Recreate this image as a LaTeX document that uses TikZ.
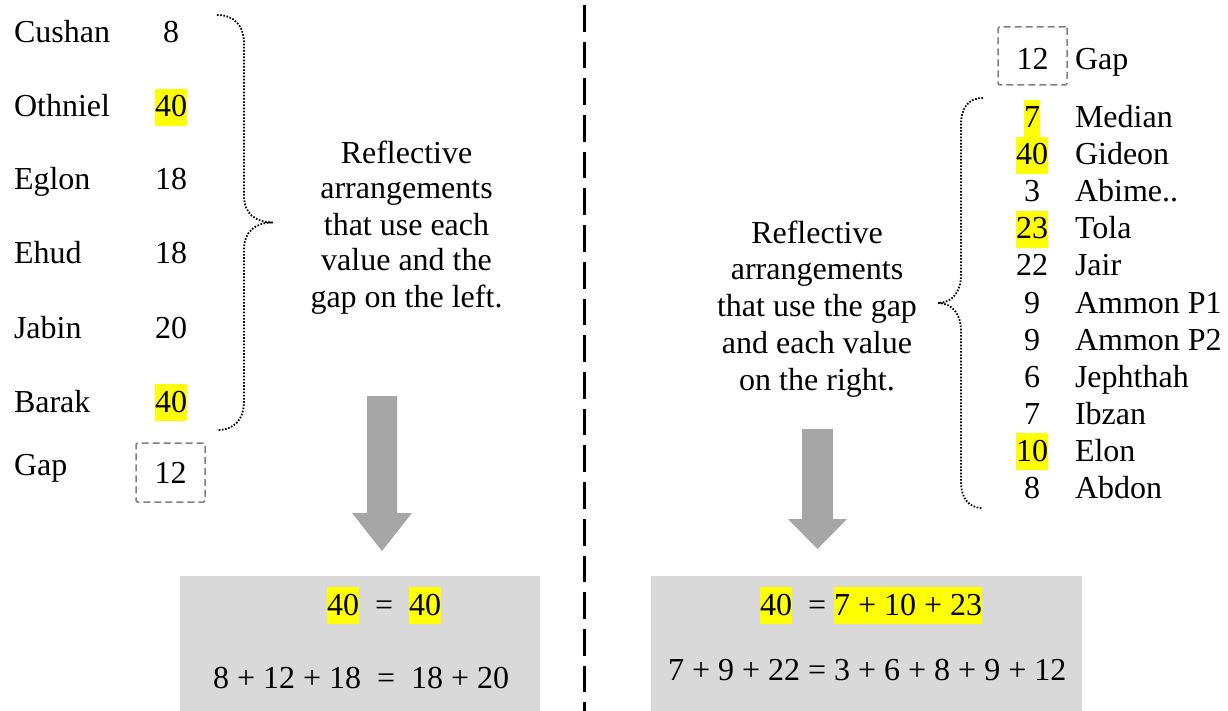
\documentclass[tikz,border=0pt]{standalone}
\usepackage{fontspec}
\setmainfont{Liberation Serif}
\definecolor{hly}{HTML}{FFFF00}
\definecolor{arrowgray}{HTML}{A6A6A6}
\definecolor{boxgray}{HTML}{D9D9D9}
\definecolor{dashgray}{HTML}{808080}
\newcommand\hlt[1]{{\setlength{\fboxsep}{0pt}\colorbox{hly}{\rule[-9pt]{0pt}{37pt}#1}}}
\begin{document}
\begin{tikzpicture}[x=1pt,y=-1pt,
  every node/.style={inner sep=0pt, outer sep=0pt, font=\fontsize{32}{36.5}\selectfont},
  namelbl/.style={anchor=base west},
  numlbl/.style={anchor=base},
  gapbox/.style={draw=dashgray, line width=1.5pt, dash pattern=on 7pt off 4pt, rounded corners=1.5pt, minimum width=69pt, anchor=base},
  bracestyle/.style={line width=1.8pt, dash pattern=on 1.6pt off 1.6pt},
  blockarrow/.style={fill=arrowgray},
  resultbox/.style={fill=boxgray},
  explain/.style={align=center, anchor=base},
  divider/.style={line width=3pt, dash pattern=on 26.7pt off 10pt}
]
\useasboundingbox (0,0) rectangle (1228,711);

% divider
\coordinate (dtop) at (584,5);
\coordinate (dbot) at (584,711);
\draw[divider] (dtop) -- (dbot);

% left list
\node[namelbl] (cushan) at (14,43) {Cushan};
\node[numlbl] (vcushan) at (171,43) {8};
\node[namelbl] (othniel) at (14,117) {Othniel};
\node[numlbl] (vothniel) at (171,117) {\hlt{40}};
\node[namelbl] (eglon) at (14,190) {Eglon};
\node[numlbl] (veglon) at (171,190) {18};
\node[namelbl] (ehud) at (14,264) {Ehud};
\node[numlbl] (vehud) at (171,264) {18};
\node[namelbl] (jabin) at (14,338) {Jabin};
\node[numlbl] (vjabin) at (171,338) {20};
\node[namelbl] (barak) at (14,412) {Barak};
\node[numlbl] (vbarak) at (171,412) {\hlt{40}};
\node[namelbl] (lgap) at (14,475) {Gap};
\node[gapbox, text height=40pt, text depth=19pt] (vlgap) at (170.5,483) {12};

% left brace
\draw[bracestyle] (217,15) .. controls (234,15) and (244,25) .. (244,44) -- (244,196)
  .. controls (244,213) and (255,222.5) .. (273,222.5)
  .. controls (255,222.5) and (244,232) .. (244,249) -- (244,401)
  .. controls (244,420) and (234,430) .. (217,430);

% left explanation
\node[explain, font=\fontsize{32}{36}\selectfont] (lexp) at (406.5,307) {Reflective\\arrangements\\that use each\\value and the\\gap on the left.};

% left arrow
\fill[blockarrow] (367,396) -- (397,396) -- (397,513) -- (412,513) -- (382,551) -- (352,513) -- (367,513) -- cycle;

% left result
\node[resultbox, minimum width=360pt, minimum height=135pt] (lres) at (360,643.5) {};
\node[anchor=base west] (lres1) at (327,615) {\hlt{40}\ \ =\ \ \hlt{40}};
\node[anchor=base west] (lres2) at (213,688) {8 + 12 + 18\ \ =\ \ 18 + 20};

% right gap
\node[gapbox, text height=43pt, text depth=15pt] (vrgap) at (1032.5,70) {12};
\node[namelbl] (rgap) at (1075,70) {Gap};

% right list
\foreach \v/\n/\k in {\hlt{7}/Median/0, \hlt{40}/Gideon/1, 3/Abime../2, \hlt{23}/Tola/3, 22/Jair/4, 9/Ammon P1/5, 9/Ammon P2/6, 6/Jephthah/7, 7/Ibzan/8, \hlt{10}/Elon/9, 8/Abdon/10}{
  \node[numlbl] (rv\k) at (1032,128+37*\k) {\v};
  \node[namelbl] (rn\k) at (1075,128+37*\k) {\n};
}

% right brace
\draw[bracestyle] (983,98) .. controls (968,98) and (961,108) .. (961,125) -- (961,275)
  .. controls (961,292) and (952,303) .. (938,303)
  .. controls (952,303) and (961,314) .. (961,331) -- (961,481)
  .. controls (961,498) and (968,508) .. (983,508);

% right explanation
\node[explain, font=\fontsize{32}{36.7}\selectfont] (rexp) at (817,390) {Reflective\\arrangements\\that use the gap\\and each value\\on the right.};

% right arrow
\fill[blockarrow] (802,429) -- (833,429) -- (833,519) -- (847,519) -- (817.5,549) -- (788,519) -- (802,519) -- cycle;

% right result
\node[resultbox, minimum width=431pt, minimum height=135pt] (rres) at (866.5,643.5) {};
\node[anchor=base west] (rres1) at (760,615) {\hlt{40}\ \ =\ \hlt{7 + 10 + 23}};
\node[anchor=base west] (rres2) at (668,680) {7 + 9 + 22 = 3 + 6 + 8 + 9 + 12};
\end{tikzpicture}
\end{document}
